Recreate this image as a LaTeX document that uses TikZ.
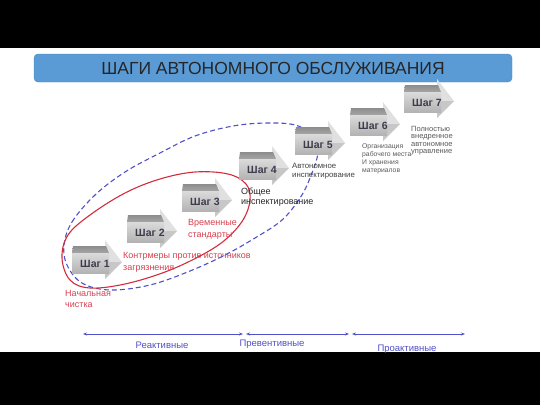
\documentclass[tikz,border=0pt]{standalone}
\usepackage{fontspec}
\setmainfont{Liberation Sans}
\usepackage{pgf,tikz}
\usetikzlibrary{arrows.meta}

\definecolor{barblue}{HTML}{5B9BD5}
\definecolor{barline}{HTML}{4A86C0}
\definecolor{stepgray}{HTML}{3C3C4C}
\definecolor{redtext}{HTML}{D6404E}
\definecolor{redline}{HTML}{D02C3C}
\definecolor{blueline}{HTML}{5050C8}
\definecolor{axisblue}{HTML}{5050C8}

\begin{document}
\begin{tikzpicture}[x=1pt,y=-1pt,
    titlebar/.style={draw=barline,fill=barblue,rounded corners=4pt,minimum width=478pt,minimum height=28pt,inner sep=0,
        font=\fontsize{17.5}{20}\selectfont,text=black!85},
    steptext/.style={font=\fontsize{10.5}{12}\selectfont\bfseries,text=stepgray,inner sep=0},
    note/.style={anchor=north west,align=left,inner sep=0},
    axis/.style={{Stealth[length=4pt,width=3pt]}-{Stealth[length=4pt,width=3pt]},draw=axisblue,line width=0.8},
    axislabel/.style={font=\fontsize{9.5}{11}\selectfont,text=axisblue,inner sep=0}]
    \useasboundingbox (0,0) rectangle (540,405);
    \fill[black] (0,0) rectangle (540,48);
    \fill[black] (0,352) rectangle (540,405);

    \node[titlebar] at (273,68) (title) {ШАГИ АВТОНОМНОГО ОБСЛУЖИВАНИЯ};

    % groups
    \draw[blueline,line width=1.1,dash pattern=on 5pt off 3pt] plot[smooth cycle,tension=0.6] coordinates {
        (64,245) (72,222) (95,195) (125,172) (160,153) (195,136) (233,126) (267,123) (295,125) (312,135)
        (318,152) (310,178) (300,198) (282,220) (255,238) (225,255) (190,271) (150,285) (110,290) (82,283) (67,265)};
    \draw[redline,line width=1.1] plot[smooth cycle,tension=0.6] coordinates {
        (62,258) (68,235) (90,215) (125,193) (160,179) (195,172) (228,174) (246,184) (250,200) (243,220)
        (225,240) (200,256) (165,272) (125,284) (90,288) (70,280)};

    % steps
    \foreach \n/\cx/\cy in {1/95/264,2/150/233,3/205/202,4/262/170,5/318/145,6/373/126,7/427/103} {
        \fill[black!12] (\cx+10,\cy-24) -- (\cx+27,\cy-2) -- (\cx+10,\cy-2) -- cycle;
        \fill[black!22] (\cx+10,\cy-2) -- (\cx+27,\cy-2) -- (\cx+10,\cy+15) -- cycle;
        \shade[top color=black!45,bottom color=black!35] (\cx-23,\cy-11) -- (\cx+14,\cy-11) -- (\cx+11,\cy-18) -- (\cx-22,\cy-18) -- cycle;
        \shade[top color=black!14,bottom color=black!30] (\cx-23,\cy-11) rectangle (\cx+14,\cy+9);
        \node[steptext] at (\cx,\cy) (s\n) {Шаг \n};
    }

    \node[note,font=\fontsize{9}{11}\selectfont,text=redtext] at (65,290) (start) {Начальная\\чистка};
    \node[note,font=\fontsize{9}{12}\selectfont,text=redtext] at (123,252) (counter) {Контрмеры против источников\\загрязнения};
    \node[note,font=\fontsize{9}{12}\selectfont,text=redtext] at (188,219) (standard) {Временные\\стандарты};
    \node[note,font=\fontsize{9}{9.5}\selectfont,text=black!85] at (241,188) (general) {Общее\\инспектирование};
    \node[note,font=\fontsize{7.8}{9}\selectfont,text=black!75] at (292,162.5) (autonom) {Автономное\\инспектирование};
    \node[note,font=\fontsize{6.8}{8}\selectfont,text=black!65] at (362,144) (workplace) {Организация\\рабочего места\\И хранения\\материалов};
    \node[note,font=\fontsize{7.5}{7.4}\selectfont,text=black!65] at (411,126) (full) {Полностью\\внедренное\\автономное\\управление};

    % time scale
    \coordinate (r1) at (83,334);
    \coordinate (r2) at (243,334);
    \coordinate (p1) at (246,334);
    \coordinate (p2) at (349,334);
    \coordinate (q1) at (352,334);
    \coordinate (q2) at (465,334);
    \draw[axis] (r1) -- (r2);
    \draw[axis] (p1) -- (p2);
    \draw[axis] (q1) -- (q2);
    \node[axislabel] at (162,345) (react) {Реактивные};
    \node[axislabel] at (272,344) (prevent) {Превентивные};
    \node[axislabel] at (407,349) (proact) {Проактивные};
\end{tikzpicture}
\end{document}
